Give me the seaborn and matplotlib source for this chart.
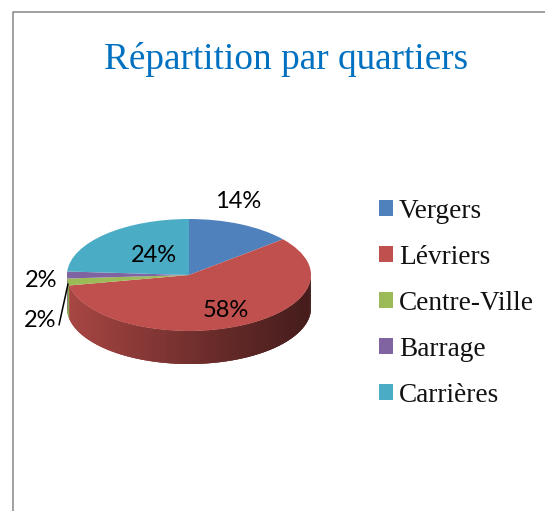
import matplotlib
matplotlib.use('Agg')
import matplotlib.pyplot as plt
from matplotlib.colors import to_rgb
from matplotlib.lines import Line2D
import seaborn as sns
import numpy as np

categories = ['Vergers', 'Lévriers', 'Centre-Ville', 'Barrage', 'Carrières']
values = [14, 58, 2, 2, 24]
colors = ['#4f81bd', '#c0504d', '#9bbb59', '#8064a2', '#4bacc6']
pct_labels = ['14%', '58%', '2%', '2%', '24%']
title = 'Répartition par quartiers'

W, H = 545, 511
# position du camembert en pixels
cx, cy, rx, ry, depth = 189, 275, 122, 56, 33

sns.set_theme(style='white')
fig = plt.figure(figsize=(W / 100, H / 100), dpi=100)
ax = fig.add_axes([0, 0, 1, 1])

# dessus du camembert
wedges, _ = ax.pie(values, colors=colors, startangle=90, counterclock=False, radius=1,
                   wedgeprops={'linewidth': 0}, frame=True)
for w in wedges:
    w.set_zorder(3)

# repere : 1 unite = rx pixels en x, ry pixels en y
ax.set_aspect('auto')
ax.set_xlim(-cx / rx, (W - cx) / rx)
ax.set_ylim(-(H - cy) / ry, cy / ry)
ax.axis('off')

# paroi laterale avec degrade (bandes qui se recouvrent pour eviter les raies)
h = depth / ry
ends = np.cumsum(values) / sum(values) * 2 * np.pi
edges = np.linspace(np.pi / 2, 3 * np.pi / 2, 181)
step = edges[1] - edges[0]
for a in edges[:-1]:
    mid = a + step / 2
    idx = np.searchsorted(ends, mid)
    t = np.linspace(a, min(a + 2.5 * step, 3 * np.pi / 2), 5)
    x = np.sin(t)
    y = np.cos(t)
    # lumiere a gauche, sombre a droite
    f = (1 - np.sin(mid)) / 2
    shade = 0.36 + 0.52 * f ** 1.1
    col = np.array(to_rgb(colors[idx])) * shade
    ax.fill(np.r_[x, x[::-1]], np.r_[y, y[::-1] - h], color=col, lw=0, zorder=2)


def px(x, y):
    return (x - cx) / rx, (cy - y) / ry


# etiquettes en pourcentage
pct_pos = [(238, 201), (226, 310), (40, 320), (41, 280), (154, 255)]
for lab, (x, y) in zip(pct_labels, pct_pos):
    ax.text(*px(x, y), lab, family='Lato', fontsize=17, color='black', ha='center', va='center', zorder=5)

# trait de rappel
p0, p1 = px(68, 284), px(59, 325)
ax.plot([p0[0], p1[0]], [p0[1], p1[1]], color='black', lw=1.1, zorder=5)

# titre
ax.text(*px(286, 59), title, family='Liberation Serif', fontsize=26.8, color='#0070c0',
        ha='center', va='center')

# legende
fig.legend(wedges, categories, loc='upper left', bbox_to_anchor=(379 / W, 1 - 199 / H),
           frameon=False, prop={'family': 'Liberation Serif', 'size': 19.6},
           handlelength=0.51, handleheight=0.51, handletextpad=0.22, labelspacing=0.77,
           labelcolor='#111111', borderpad=0, borderaxespad=0)

# cadre gris
fig.add_artist(Line2D([12.5 / W, 12.5 / W, 1], [0, 1 - 12.5 / H, 1 - 12.5 / H],
                      color='#868686', lw=1.1))

fig.savefig('out.png', dpi=100)
